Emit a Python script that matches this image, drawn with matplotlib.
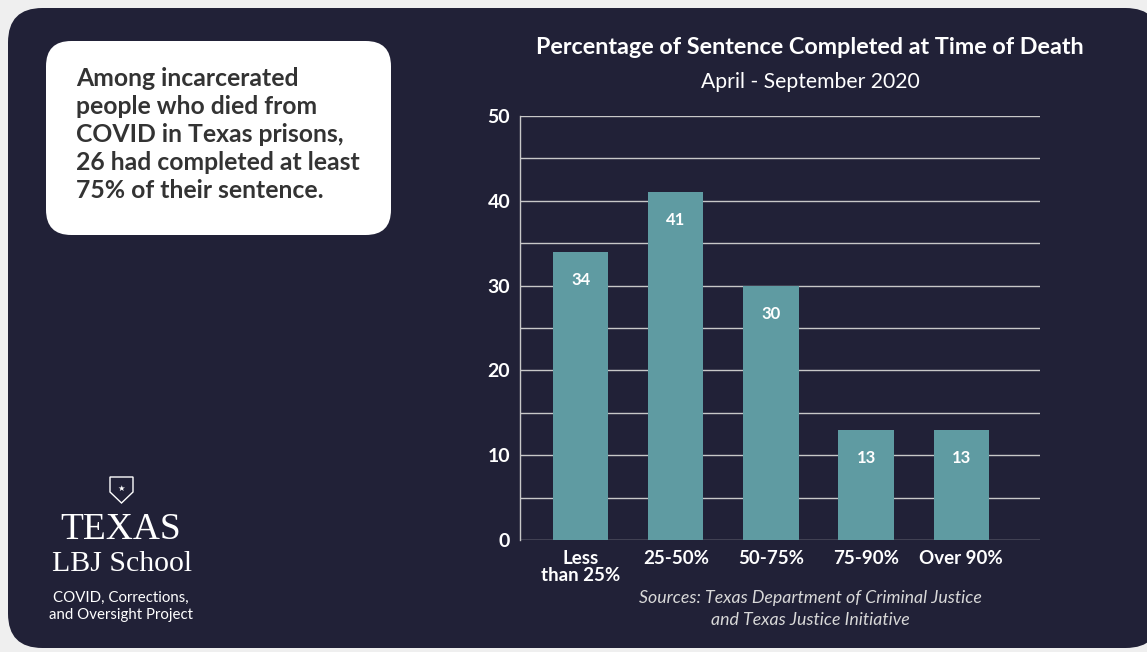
import matplotlib.pyplot as plt
from matplotlib.patches import FancyBboxPatch, Polygon

categories = ["Less\nthan 25%", "25-50%", "50-75%", "75-90%", "Over 90%"]
deaths = [34, 41, 30, 13, 13]
y_ticks = [0, 10, 20, 30, 40, 50]

W, H = 1147, 652
NAVY = '#212137'
TEAL = '#5f9ba2'

plt.rcParams['font.family'] = ['Lato', 'DejaVu Sans']


def fx(px):
    return px / W


def fy(py):
    return 1 - py / H


fig = plt.figure(figsize=(W / 100, H / 100), dpi=100)
fig.patch.set_facecolor('#efefef')

# dark rounded panel
panel = FancyBboxPatch((fx(8), fy(648)), fx(1160) - fx(8), fy(8) - fy(648),
                       boxstyle="round,pad=0,rounding_size=0.03",
                       transform=fig.transFigure, facecolor=NAVY, edgecolor='none',
                       mutation_aspect=W / H, zorder=-2)
fig.patches.append(panel)

# white callout box
box = FancyBboxPatch((fx(46), fy(235)), fx(391) - fx(46), fy(41) - fy(235),
                     boxstyle="round,pad=0,rounding_size=0.022",
                     transform=fig.transFigure, facecolor='white', edgecolor='none',
                     mutation_aspect=W / H, zorder=-1)
fig.patches.append(box)
callout = ["Among incarcerated", "people who died from", "COVID in Texas prisons,",
           "26 had completed at least", "75% of their sentence."]
for i, line in enumerate(callout):
    fig.text(fx(76), fy(79 + i * 28), line, fontsize=17.8, fontweight='bold',
             color='#333333', va='center', ha='left')

# logo block
shield = Polygon([[fx(110), fy(477)], [fx(133), fy(477)], [fx(133), fy(492)],
                  [fx(121.5), fy(503)], [fx(110), fy(492)]],
                 closed=True, transform=fig.transFigure, facecolor='none',
                 edgecolor='white', linewidth=1.0)
fig.patches.append(shield)
fig.text(fx(121.5), fy(488), "\u2605", fontsize=6, color='white', ha='center', va='center',
         family=['DejaVu Sans'])
fig.text(fx(121), fy(530), "TEXAS", fontsize=27, color='white', ha='center', va='center',
         family=['Liberation Serif', 'DejaVu Serif'])
fig.text(fx(122), fy(564), "LBJ School", fontsize=21.5, color='white', ha='center', va='center',
         family=['Liberation Serif', 'DejaVu Serif'])
fig.text(fx(121), fy(598), "COVID, Corrections,", fontsize=10.8, color='white',
         ha='center', va='center')
fig.text(fx(121), fy(615), "and Oversight Project", fontsize=10.8, color='white',
         ha='center', va='center')

# chart
ax = fig.add_axes([fx(520), fy(540), fx(1040) - fx(520), fy(116) - fy(540)])
ax.set_zorder(2)
ax.set_facecolor(NAVY)
x = range(len(categories))
bars = ax.bar(x, deaths, width=0.58, color=TEAL, zorder=3)
for xi, v in zip(x, deaths):
    ax.text(xi, v - 3.3, str(v), ha='center', va='center', color='white',
            fontsize=12, fontweight='bold', zorder=4)

ax.set_ylim(0, 50)
ax.set_xlim(-0.64, 4.83)
ax.set_yticks(y_ticks)
ax.set_yticks(range(5, 50, 10), minor=True)
ax.grid(axis='y', which='both', color='#c8c8c8', linewidth=1.0, zorder=0)
ax.set_xticks(list(x))
ax.set_xticklabels(categories, color='white', fontsize=13.5, fontweight='bold',
                   linespacing=1.05, va='top')
ax.tick_params(axis='x', length=0, pad=7)
ax.tick_params(axis='y', which='both', length=0, pad=7, labelcolor='white',
               labelsize=14)
for lbl in ax.get_yticklabels():
    lbl.set_fontweight('bold')
for s in ['top', 'right', 'bottom']:
    ax.spines[s].set_visible(False)
ax.spines['left'].set_color('#c8c8c8')
ax.spines['left'].set_linewidth(1.0)

fig.text(fx(810), fy(47), "Percentage of Sentence Completed at Time of Death",
         fontsize=16.8, fontweight='bold', color='white', ha='center', va='center')
fig.text(fx(810), fy(82), "April - September 2020", fontsize=15.2, color='white',
         ha='center', va='center')
fig.text(fx(810), fy(598), "Sources: Texas Department of Criminal Justice",
         fontsize=12.8, style='italic', color='#d8d8d8', ha='center', va='center')
fig.text(fx(810), fy(620), "and Texas Justice Initiative",
         fontsize=12.8, style='italic', color='#d8d8d8', ha='center', va='center')

fig.savefig("out.png", dpi=100, facecolor=fig.get_facecolor())
